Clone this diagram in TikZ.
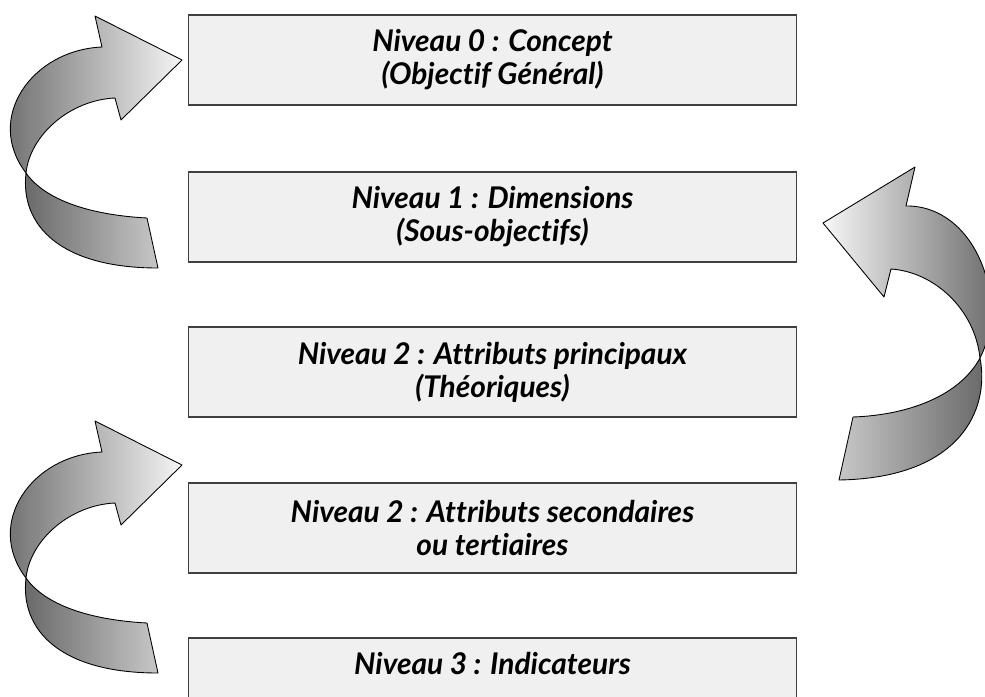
\documentclass[tikz,border=0pt]{standalone}
\usepackage{fontspec}
\setmainfont{Lato}[Ligatures=NoCommon]
\definecolor{boxgray}{HTML}{F0F0F0}
\definecolor{edgegray}{HTML}{404040}
\begin{document}
\begin{tikzpicture}[x=0.02cm,y=-0.02cm,
  lvl/.style={draw=edgegray, fill=boxgray, line width=0.6pt, minimum width=12.18cm, minimum height=1.8cm, inner sep=0pt},
  lbl/.style={align=center, font=\fontsize{17}{18.8}\selectfont\bfseries\itshape},
  band/.style={draw=black, line width=0.5pt, line join=round}]
\useasboundingbox (0,0) rectangle (985,697);
\clip (0,0) rectangle (985,697);
\fill[white] (0,0) rectangle (985,697);

% level boxes
\node[lvl, lbl] (n0) at (492.5,60) {Niveau 0 : Concept\\(Objectif Général)};
\node[lvl, lbl] (n1) at (492.5,217) {Niveau 1 : Dimensions\\(Sous-objectifs)};
\node[lvl, lbl] (n2) at (492.5,372) {Niveau 2 : Attributs principaux\\(Théoriques)};
\node[lvl, lbl] (n3) at (492.5,528) {Niveau 2 : Attributs secondaires\\ou tertiaires};
\node[lvl] (n4) at (492.5,683) {};
\node[lbl] (n4t) at (492.5,664) {Niveau 3 : Indicateurs};

% left curved arrows (top and bottom)
\foreach \dy in {0,405} {
\begin{scope}[yshift=-\dy*0.02cm]
  \path[band, left color=black!60, right color=black!22]
    (26,173) .. controls (45,200) and (90,215) .. (147,218)
    -- (158,268) .. controls (60,268) and (20,225) .. (26,173) -- cycle;
  \path[band, left color=black!62, right color=black!4]
    (102,47) .. controls (32,50) and (-16,118) .. (26,173)
    .. controls (30,135) and (70,100) .. (115,98)
    -- (121,120) -- (182,60) -- (95,16) -- cycle;
\end{scope}
}

% right curved arrow
\path[band, left color=black!22, right color=black!60]
  (980,358) .. controls (960,395) and (910,415) .. (853,417)
  -- (839,480) .. controls (960,478) and (990,410) .. (980,358) -- cycle;
\path[band, left color=black!3, right color=black!62]
  (906,206) .. controls (975,205) and (1010,300) .. (980,358)
  .. controls (975,310) and (935,272) .. (891,269)
  -- (884,297) -- (823,223) -- (915,167) -- cycle;
\end{tikzpicture}
\end{document}
